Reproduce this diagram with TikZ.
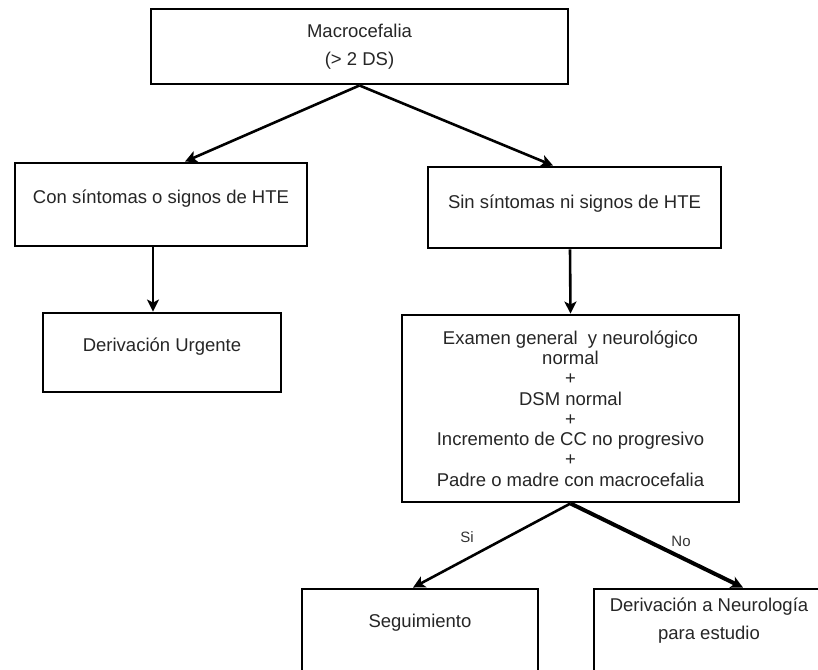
\documentclass[tikz,border=0pt]{standalone}
\usepackage{fontspec}
\setmainfont{Liberation Sans}
\usetikzlibrary{arrows.meta}

\tikzset{
  caja/.style={draw, line width=2.9pt, align=center, inner sep=0pt, text=black!85},
  flecha/.style={line width=2.6pt, -{Stealth[length=12pt,width=12pt,inset=3pt]}},
  etiqueta/.style={font=\fontsize{15}{17}\selectfont, text=black!80}
}

\begin{document}
\begin{tikzpicture}[x=1pt,y=-1pt,font=\fontsize{18.5}{20.3}\selectfont]
\useasboundingbox[fill=white] (0,0) rectangle (818,669);
\clip (0,0) rectangle (818,669);

% cajas
\node[caja, minimum width=417, minimum height=75] (macro) at (359.5,46.5)
  {Macrocefalia\\[7.7pt](> 2 DS)};
\node[caja, minimum width=292, minimum height=83, text height=13pt, text depth=15pt] (con) at (161,204.5)
  {Con síntomas o signos de HTE};
\node[caja, minimum width=293, minimum height=81, text height=13pt, text depth=11pt] (sin) at (574.5,207.5)
  {Sin síntomas ni signos de HTE};
\node[caja, minimum width=238, minimum height=79, text height=13pt, text depth=15pt] (urg) at (162,352.5)
  {Derivación Urgente};
\node[caja, minimum width=337, minimum height=187] (examen) at (570.5,408.5)
  {Examen general\ \ y neurológico\\normal\\+\\DSM normal\\+\\Incremento de CC no progresivo\\+\\Padre o madre con macrocefalia};
\node[caja, minimum width=236, minimum height=83, text height=13pt, text depth=19pt] (seg) at (420,630.5)
  {Seguimiento};
\node[caja, minimum width=230, minimum height=83, text height=41pt, text depth=23pt] (neuro) at (709,630.5)
  {Derivación a Neurología\\[7.7pt]para estudio};

% flechas
\draw[flecha] (macro.south) -- ([xshift=24pt]con.north);
\draw[flecha] (macro.south) -- ([xshift=-21.5pt]sin.north);
\draw[flecha] ([xshift=-8pt]con.south) -- ([xshift=-9pt]urg.north);
\draw[flecha] ([xshift=-4.5pt]sin.south) -- (examen.north);
\draw[flecha] (examen.south) -- node[etiqueta, pos=0.6, xshift=-9pt, yshift=17pt] {Si} ([xshift=-7pt]seg.north);
\draw[flecha, line width=4pt] (examen.south) -- node[etiqueta, pos=0.6, xshift=7pt, yshift=13pt] {No} ([xshift=34pt]neuro.north);

\end{tikzpicture}
\end{document}
